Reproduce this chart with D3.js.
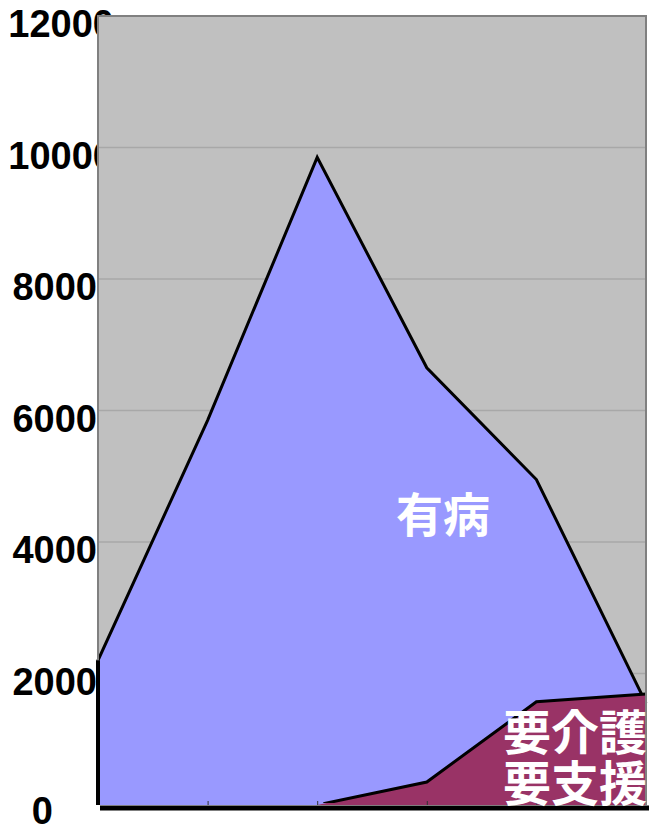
<!DOCTYPE html>
<html>
<head>
<meta charset="utf-8">
<script src="https://cdn.jsdelivr.net/npm/d3@7"></script>
<style>
  body { margin: 0; background: #fff; }
  .axis text { font-family: "Liberation Sans", Arial, sans-serif; font-weight: bold; }
  .label { font-family: "Noto Sans CJK JP", sans-serif; font-weight: bold; fill: #fff; }
</style>
</head>
<body>
<div id="chart"></div>
<script>
// values
const groups = ["g1", "g2", "g3", "g4", "g5", "g6"]
const illness = [2200, 5850, 9850, 6650, 4950, 1550]
const careNeeded = [0, 0, 0, 350, 1570, 1690]
const yTicks = [0, 2000, 4000, 6000, 8000, 10000, 12000]

function drawAreaChart() {
  const width = 649
  const height = 826
  const plot = { left: 98, right: 646, top: 16, bottom: 805 }

  const svg = d3.select("#chart").append("svg")
    .attr("width", width)
    .attr("height", height)

  const xScale = d3.scalePoint()
    .domain(groups)
    .range([plot.left, plot.right])

  const yScale = d3.scaleLinear()
    .domain([0, 12000])
    .range([plot.bottom, plot.top])

  // y labels (drawn first, plot covers their right edge like the original)
  const yAxis = svg.append("g")
    .attr("class", "axis")
    .attr("transform", `translate(${plot.left + 12},0)`)
    .call(d3.axisLeft(yScale).tickValues(yTicks).tickFormat(d3.format("d")).tickSize(0).tickPadding(0))
  yAxis.select(".domain").remove()
  yAxis.selectAll("text")
    .attr("font-size", 38)
    .attr("fill", "#000")
    .attr("dy", d => d === 0 ? "0.48em" : "0.55em")
    .attr("x", d => d === 0 ? -57 : (d >= 10000 ? 4 : -13))

  // plot background
  svg.append("rect")
    .attr("x", plot.left)
    .attr("y", plot.top)
    .attr("width", plot.right - plot.left)
    .attr("height", plot.bottom - plot.top)
    .attr("fill", "#c0c0c0")

  svg.append("g")
    .selectAll("line")
    .data(yTicks.filter(d => d > 0 && d < 12000))
    .join("line")
      .attr("x1", plot.left)
      .attr("x2", plot.right)
      .attr("y1", d => yScale(d))
      .attr("y2", d => yScale(d))
      .attr("stroke", "#a8a8a8")
      .attr("stroke-width", 1.5)

  const idx = d3.range(groups.length)
  const areaGen = values => d3.area()
    .x(i => xScale(groups[i]))
    .y0(yScale(0))
    .y1(i => yScale(values[i]))(idx)
  const lineGen = values => d3.line()
    .x(i => xScale(groups[i]))
    .y(i => yScale(values[i]))(idx)

  // 有病
  svg.append("path")
    .attr("d", areaGen(illness))
    .attr("fill", "#9999ff")
  svg.append("path")
    .attr("d", `M${plot.left},${yScale(0)}L` + lineGen(illness).slice(1))
    .attr("fill", "none")
    .attr("stroke", "#000")
    .attr("stroke-width", 3)

  // 要介護・要支援
  svg.append("clipPath").attr("id", "careClip")
    .append("rect")
      .attr("x", xScale(groups[2]) + 6)
      .attr("y", plot.top)
      .attr("width", plot.right - xScale(groups[2]))
      .attr("height", plot.bottom - plot.top - 2)

  svg.append("path")
    .attr("d", areaGen(careNeeded))
    .attr("fill", "#993366")
  svg.append("path")
    .attr("d", lineGen(careNeeded))
    .attr("fill", "none")
    .attr("stroke", "#000")
    .attr("stroke-width", 3)
    .attr("clip-path", "url(#careClip)")

  // plot frame
  svg.append("path")
    .attr("d", `M${plot.left},${plot.bottom}V${plot.top}H${plot.right}V${plot.bottom}`)
    .attr("fill", "none")
    .attr("stroke", "#808080")
    .attr("stroke-width", 2)
  svg.append("line")
    .attr("x1", plot.left)
    .attr("x2", plot.left)
    .attr("y1", yScale(illness[0]))
    .attr("y2", plot.bottom)
    .attr("stroke", "#000")
    .attr("stroke-width", 4)

  // bottom axis
  const xAxis = svg.append("g")
    .attr("transform", `translate(0,${plot.bottom})`)
    .call(d3.axisBottom(xScale).tickSize(-4).tickFormat(""))
  xAxis.select(".domain").remove()
  xAxis.selectAll(".tick line")
    .attr("stroke", "#333")
    .filter(d => d === groups[0] || d === groups[groups.length - 1]).remove()
  svg.append("line")
    .attr("x1", plot.left + 2)
    .attr("x2", width)
    .attr("y1", plot.bottom + 3)
    .attr("y2", plot.bottom + 3)
    .attr("stroke", "#000")
    .attr("stroke-width", 5)

  // series labels
  svg.append("text")
    .attr("class", "label")
    .attr("x", 443)
    .attr("y", 532)
    .attr("text-anchor", "middle")
    .attr("font-size", 47)
    .text("有病")
  const careLabel = svg.append("text")
    .attr("class", "label")
    .attr("text-anchor", "end")
    .attr("font-size", 48)
  careLabel.append("tspan").attr("x", 647).attr("y", 750).text("要介護")
  careLabel.append("tspan").attr("x", 647).attr("y", 801).text("要支援")
}

drawAreaChart()
</script>
</body>
</html>
